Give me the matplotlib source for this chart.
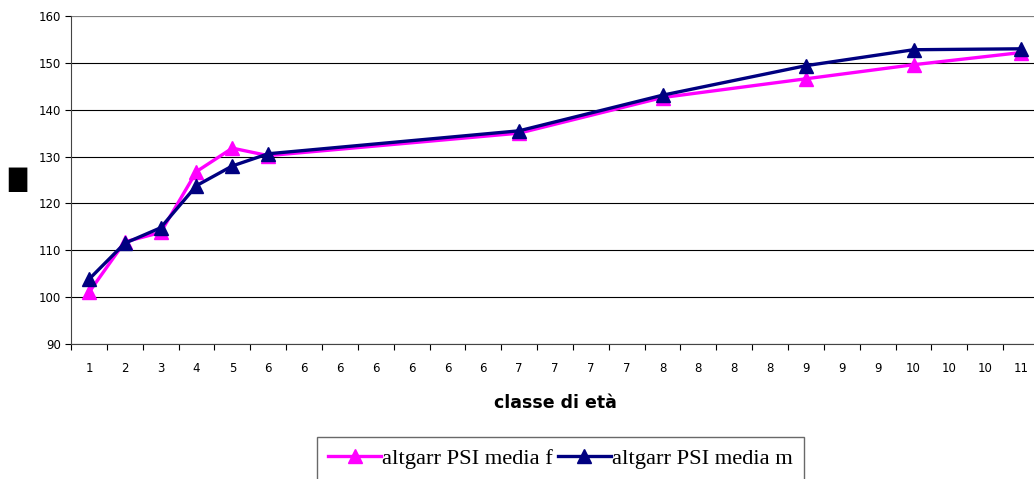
import matplotlib
matplotlib.use("Agg")
import matplotlib.pyplot as plt
import numpy as np

# x axis category labels (one per slot)
tick_labels = ["1", "2", "3", "4", "5",
               "6", "6", "6", "6", "6", "6", "6",
               "7", "7", "7", "7",
               "8", "8", "8", "8",
               "9", "9", "9",
               "10", "10", "10",
               "11"]
# slots in which the data points sit
point_slots = [0, 1, 2, 3, 4, 5, 12, 16, 20, 23, 26]
media_f = [101.0, 111.8, 113.8, 126.8, 131.8, 130.2, 135.0, 142.6, 146.6, 149.6, 152.2]
media_m = [103.8, 111.5, 114.8, 123.8, 128.0, 130.6, 135.5, 143.1, 149.4, 152.8, 153.0]
series_names = ["altgarr PSI media f", "altgarr PSI media m"]
y_ticks = [90, 100, 110, 120, 130, 140, 150, 160]

fig = plt.figure(figsize=(10.34, 4.79), dpi=100)
ax = fig.add_axes([71 / 1034, 1 - 344 / 479, 968 / 1034, 328 / 479])

ax.plot(point_slots, media_f, color="#FF00FF", lw=2.4, marker="^", ms=10,
        label=series_names[0], zorder=3)
ax.plot(point_slots, media_m, color="#000080", lw=2.4, marker="^", ms=10,
        label=series_names[1], zorder=4)

ax.set_xlim(-0.5, len(tick_labels) - 0.5)
ax.set_ylim(90, 160)
ax.set_yticks(y_ticks)
ax.tick_params(axis="y", labelsize=8.5, length=4, width=0.8, direction="out", pad=3)
ax.set_xticks(np.arange(len(tick_labels)))
ax.set_xticklabels(tick_labels, fontsize=8.5)
ax.tick_params(axis="x", which="major", length=0, pad=13)
ax.set_xticks(np.arange(len(tick_labels) + 1) - 0.5, minor=True)
ax.tick_params(axis="x", which="minor", length=4, width=0.8, direction="out")

ax.yaxis.grid(True, color="black", lw=0.8)
ax.set_axisbelow(True)
for s in ["top", "right"]:
    ax.spines[s].set_visible(False)
ax.spines["left"].set_color("#444444")
ax.spines["bottom"].set_color("#444444")
ax.axhline(160, color="#999999", lw=1.2, zorder=1)

ax.set_xlabel("classe di età", fontsize=12.5, fontweight="bold", labelpad=14)
ax.set_ylabel("█", rotation=0, fontsize=17, va="center", ha="center")
ax.yaxis.set_label_coords(-0.0558, 0.5)

leg = fig.legend(loc="upper center", bbox_to_anchor=(0.542, 1 - 437 / 479),
                 ncol=2, frameon=True, fancybox=False, edgecolor="#444444",
                 prop={"family": "Liberation Serif", "size": 16.2},
                 handlelength=2.35, handletextpad=0.05, columnspacing=0.2,
                 borderpad=0.5, borderaxespad=0)
leg.get_frame().set_linewidth(1.0)

fig.savefig("out.png", dpi=100)
